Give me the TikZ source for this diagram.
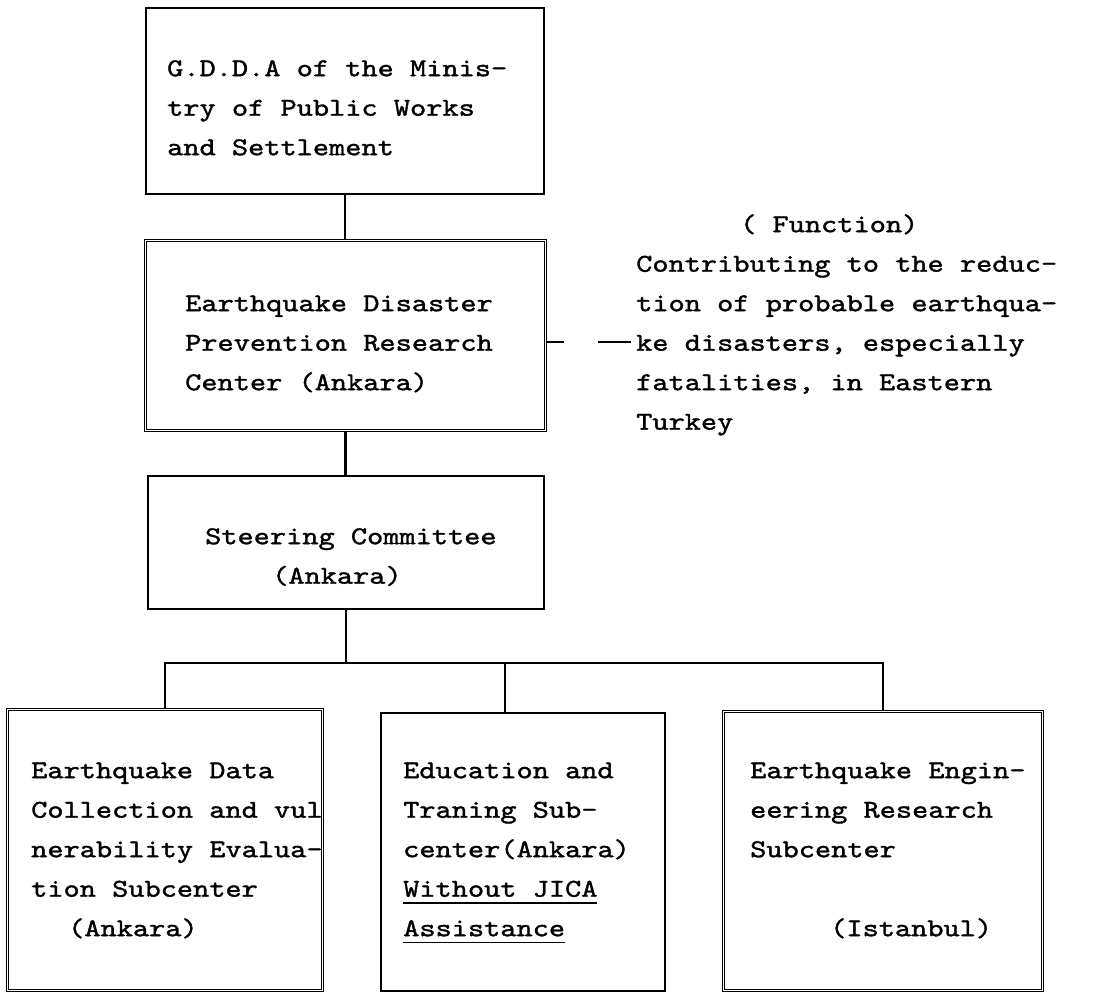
\documentclass[tikz,border=0pt]{standalone}
\usepackage{fontspec}
\newfontfamily\tw{lmmono10-regular.otf}[FakeStretch=1.2, FakeBold=1.4]
\newcommand\fl{\rule{0pt}{21pt}}
\newcommand\ulin[1]{\setbox0\hbox{#1}\rlap{\rule[-7pt]{\wd0}{1.3pt}}\box0}
\begin{document}
\begin{tikzpicture}[x=1pt,y=-1pt,
  box/.style={draw, line width=1.6pt, anchor=north west, inner sep=0pt},
  dbox/.style={box, double, double distance=1.6pt, line width=1.1pt},
  txt/.style={anchor=north west, inner sep=0pt, align=left, font=\tw\fontsize{25.7pt}{39.5pt}\selectfont},
  trunk/.style={line width=2.6pt},
  bar/.style={line width=1.8pt},
  dashline/.style={line width=1.3pt, dash pattern=on 18pt off 34pt on 33pt off 60pt}]
\fill[white] (0,0) rectangle (1093,992);
\useasboundingbox (0,0) rectangle (1093,992);

\node[box, minimum width=398pt, minimum height=186pt] (gdda) at (145,7) {};
\node[dbox, minimum width=400pt, minimum height=190pt] (edp) at (145,240) {};
\node[box, minimum width=396pt, minimum height=133pt] (steer) at (147,475) {};
\node[dbox, minimum width=315pt, minimum height=281pt] (data) at (7,709) {};
\node[box, minimum width=284pt, minimum height=278pt] (edu) at (380,712) {};
\node[dbox, minimum width=319pt, minimum height=279pt] (eng) at (723,711) {};

\node[txt] (gddat) at (167,55) {\fl G.D.D.A of the Minis-\\try of Public Works\\and Settlement};
\node[txt] (edpt) at (185,290) {\fl Earthquake Disaster\\Prevention Research\\Center (Ankara)};
\node[txt] (func) at (636,211) {\fl\hspace*{104pt}( Function)\\Contributing to the reduc-\\tion of probable earthqua-\\ke disasters, especially\\fatalities, in Eastern\\Turkey};
\node[txt] (steert) at (205,523) {\fl Steering Committee\\\hspace*{67pt}(Ankara)};
\node[txt] (datat) at (31,757) {\fl Earthquake Data\\Collection and vul\\nerability Evalua-\\tion Subcenter\\\hspace*{37pt}(Ankara)};
\node[txt] (edut) at (403,757) {\fl Education and\\Traning Sub-\\center(Ankara)\\\ulin{Without JICA}\\\ulin{Assistance}};
\node[txt] (engt) at (750,757) {\fl Earthquake Engin-\\eering Research\\Subcenter\\\mbox{}\\\hspace*{80pt}(Istanbul)};

\draw[trunk] (gdda.south) -- (gdda.south |- edp.north);
\draw[trunk] (edp.south) -- (edp.south |- steer.north);
\coordinate (hub) at (343,663);
\coordinate (edudrop) at (505,663);
\draw[trunk] (steer.south) -- (steer.south |- hub);
\draw[bar] (data.north) -- (data.north |- hub) -- (eng.north |- hub) -- (eng.north);
\draw[bar] (edudrop) -- (edudrop |- edu.north);
\draw[dashline] (edp.east |- 0,342) -- (func.west |- 0,342);
\end{tikzpicture}
\end{document}
